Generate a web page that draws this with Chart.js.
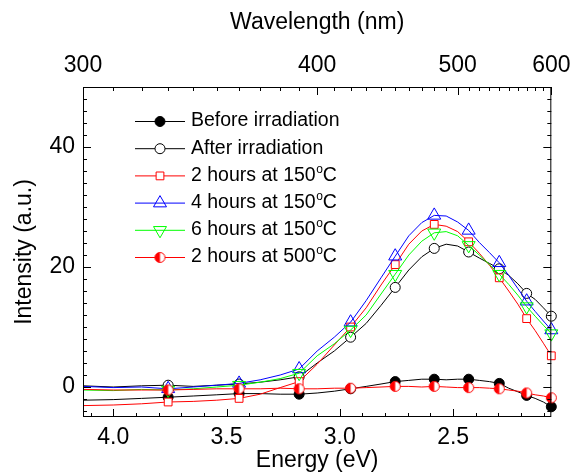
<!DOCTYPE html>
<html>
<head>
<meta charset="utf-8">
<script src="https://cdn.jsdelivr.net/npm/chart.js@4.4.1/dist/chart.umd.min.js"></script>
<style>
  html, body { margin: 0; padding: 0; background: #fff; }
  #chart { display: block; }
</style>
</head>
<body>
<canvas id="chart" width="580" height="472"></canvas>
<script>
const wavelengths = [300,310,320,330,340,350,360,370,380,390,400,410,420,430,440,450,460,470,480,490,500,510,520,530,540,550,560,570,580,590,600];
const markerWavelengths = [330,360,390,420,450,480,510,540,570,600];

const energyTicks = [4.0, 3.5, 3.0, 2.5];
const wavelengthTicks = [300, 400, 500, 600];
const intensityTicks = [0, 20, 40];

const beforeIrr = [-2.2,-2.1,-1.9,-1.7,-1.5,-1.3,-1.1,-1.1,-1.2,-1.2,-1.0,-0.7,-0.3,0.1,0.5,0.9,1.1,1.3,1.3,1.2,1.3,1.3,1.1,0.9,0.6,-0.2,-0.8,-1.4,-1.9,-2.5,-3.3];
const afterIrr = [0.2,0.0,0.2,0.3,0.1,0.3,0.5,0.8,1.2,1.7,4.0,6.0,8.3,10.6,13.6,16.6,19.5,21.7,23.1,23.8,23.5,22.5,21.5,20.6,19.7,18.6,17.2,15.6,14.6,13.2,11.8];
const h2at150 = [-3.1,-3.0,-2.8,-2.5,-2.4,-2.2,-1.9,-1.2,-0.1,0.9,3.8,7.0,10.0,13.2,17.0,20.4,23.8,26.0,27.1,26.8,25.9,24.2,22.3,20.3,18.2,16.0,13.8,11.4,9.4,7.3,5.2];
const h4at150 = [0.1,-0.1,0.0,-0.3,0.0,0.3,0.6,1.2,2.0,3.0,6.0,8.3,10.8,14.4,18.2,21.8,25.2,27.4,28.6,28.5,27.5,26.1,24.1,22.4,20.7,18.6,16.4,14.3,12.6,11.0,9.5];
const h6at150 = [-0.5,-0.6,-0.4,-0.5,-0.3,0.0,0.3,0.8,1.4,2.3,5.2,7.2,9.5,12.0,15.5,18.8,22.0,24.3,25.7,25.9,25.2,23.6,22.0,20.4,18.8,17.1,15.3,13.4,11.8,10.3,8.9];
const h2at500 = [-0.4,-0.5,-0.5,-0.5,-0.4,-0.3,-0.3,-0.3,-0.2,-0.3,-0.3,-0.2,-0.2,-0.1,0.0,0.1,0.1,0.0,0.1,0.0,-0.1,-0.1,-0.1,-0.2,-0.3,-0.5,-0.7,-1.0,-1.3,-1.5,-1.8];

const FONT = "'Liberation Sans', Arial, sans-serif";
const HC = 1240; // eV*nm

// half filled circle marker
function halfCircle(color) {
    const c = document.createElement('canvas');
    c.width = 13; c.height = 13;
    const g = c.getContext('2d');
    g.beginPath(); g.arc(6.5, 6.5, 5, 0, Math.PI * 2);
    g.fillStyle = '#fff'; g.fill();
    g.beginPath(); g.arc(6.5, 6.5, 5, Math.PI / 2, Math.PI * 1.5);
    g.closePath(); g.fillStyle = color; g.fill();
    g.beginPath(); g.arc(6.5, 6.5, 5, 0, Math.PI * 2);
    g.strokeStyle = color; g.lineWidth = 1; g.stroke();
    return c;
}

const series = [
    { label: 'Before irradiation', data: beforeIrr, color: '#000000', fill: '#000000', style: 'circle', r: 5, rot: 0 },
    { label: 'After irradiation', data: afterIrr, color: '#000000', fill: '#ffffff', style: 'circle', r: 5, rot: 0 },
    { label: '2 hours at 150°C', data: h2at150, color: '#ff0000', fill: '#ffffff', style: 'rect', r: 5.5, rot: 0 },
    { label: '4 hours at 150°C', data: h4at150, color: '#0000ff', fill: 'rgba(255,255,255,0)', style: 'triangle', r: 7.5, rot: 0 },
    { label: '6 hours at 150°C', data: h6at150, color: '#00ff00', fill: 'rgba(255,255,255,0)', style: 'triangle', r: 7.5, rot: 180 },
    { label: '2 hours at 500°C', data: h2at500, color: '#ff0000', fill: '#ff0000', style: halfCircle('#ff0000'), r: 5, rot: 0 }
];

const datasets = series.map((s, i) => ({
    label: s.label,
    data: s.data.map((v, k) => ({ x: HC / wavelengths[k], y: v })),
    borderColor: s.color,
    borderWidth: 1,
    pointStyle: s.style,
    rotation: s.rot,
    pointBackgroundColor: s.fill,
    pointBorderColor: s.color,
    pointBorderWidth: 1,
    pointRadius: ctx => markerWavelengths.includes(wavelengths[ctx.dataIndex]) ? s.r : 0,
    pointHoverRadius: 0,
    tension: 0,
    clip: false,
    order: series.length - i
}));

// frame and inward ticks on all four sides
const frameTicks = {
    id: 'frameTicks',
    afterDatasetsDraw(chart) {
        const { ctx, chartArea: a, scales } = chart;
        ctx.save();
        ctx.strokeStyle = '#000';
        ctx.lineWidth = 1;
        ctx.beginPath();
        for (let k = 21; k <= 41; k++) {
            const px = Math.round(scales.x.getPixelForValue(k / 10)) + 0.5;
            const len = k % 5 === 0 ? 8 : 4;
            ctx.moveTo(px, a.bottom); ctx.lineTo(px, a.bottom - len);
        }
        for (let nm = 300; nm <= 600; nm += 10) {
            const px = Math.round(scales.x.getPixelForValue(HC / nm)) + 0.5;
            const len = nm % 100 === 0 ? 8 : 4;
            ctx.moveTo(px, a.top); ctx.lineTo(px, a.top + len);
        }
        for (let v = -4; v <= 50; v += 2) {
            const py = Math.round(scales.y.getPixelForValue(v)) + 0.5;
            const len = v % 20 === 0 ? 8 : 4;
            ctx.moveTo(a.left, py); ctx.lineTo(a.left + len, py);
            ctx.moveTo(a.right, py); ctx.lineTo(a.right - len, py);
        }
        ctx.stroke();
        ctx.strokeRect(a.left + 0.5, a.top + 0.5, a.right - a.left - 1, a.bottom - a.top - 1);
        ctx.restore();
    }
};

// legend inside the plot: line + marker + text with superscript o
const insideLegend = {
    id: 'insideLegend',
    afterDraw(chart) {
        const ctx = chart.ctx;
        const x0 = 135, x1 = 185, xm = 160, xt = 191, y0 = 121, dy = 27.2;
        ctx.save();
        series.forEach((s, i) => {
            const y = y0 + i * dy;
            ctx.strokeStyle = s.color; ctx.lineWidth = 1;
            ctx.beginPath(); ctx.moveTo(x0, y + 0.5); ctx.lineTo(x1, y + 0.5); ctx.stroke();
            ctx.fillStyle = s.fill; ctx.strokeStyle = s.color;
            Chart.helpers.drawPoint(ctx, { pointStyle: s.style, rotation: s.rot, radius: s.r, borderWidth: 1 }, xm, y + 0.5);
            ctx.fillStyle = '#000';
            ctx.textBaseline = 'middle';
            ctx.textAlign = 'left';
            const parts = s.label.split('°');
            ctx.font = '19.5px ' + FONT;
            ctx.fillText(parts[0], xt, y);
            if (parts.length > 1) {
                let x = xt + ctx.measureText(parts[0]).width;
                ctx.font = '12px ' + FONT;
                ctx.fillText('o', x + 0.5, y - 6);
                x += ctx.measureText('o').width + 0.5;
                ctx.font = '19.5px ' + FONT;
                ctx.fillText(parts[1], x, y);
            }
        });
        ctx.restore();
    }
};

const tickFont = { family: FONT, size: 23, lineHeight: 1 };
const titleFont = { family: FONT, size: 23, lineHeight: 1 };

new Chart(document.getElementById('chart'), {
    type: 'line',
    data: { datasets },
    options: {
        responsive: false,
        animation: false,
        devicePixelRatio: 1,
        layout: { padding: { left: 0, right: 22, top: 0, bottom: 0 } },
        plugins: { legend: { display: false }, tooltip: { enabled: false } },
        scales: {
            x: {
                type: 'linear', position: 'bottom', reverse: true,
                min: HC / 600, max: HC / 300,
                grid: { display: false, drawTicks: false },
                border: { display: false },
                afterBuildTicks: sc => { sc.ticks = energyTicks.map(v => ({ value: v })); },
                ticks: { font: tickFont, color: '#000', padding: 9, maxRotation: 0, autoSkip: false,
                         callback: v => v.toFixed(1) },
                title: { display: true, text: 'Energy (eV)', font: titleFont, color: '#000', padding: { top: 0, bottom: -0.5 } },
                afterFit: sc => { sc.height = 55; }
            },
            x2: {
                type: 'linear', position: 'top', reverse: true,
                min: HC / 600, max: HC / 300,
                grid: { display: false, drawTicks: false },
                border: { display: false },
                afterBuildTicks: sc => { sc.ticks = wavelengthTicks.map(nm => ({ value: HC / nm })); },
                ticks: { font: tickFont, color: '#000', padding: 9.5, maxRotation: 0, autoSkip: false,
                         callback: (v, i) => String(wavelengthTicks[i]) },
                title: { display: true, text: 'Wavelength (nm)', font: titleFont, color: '#000', padding: { top: 11, bottom: 0 } },
                afterFit: sc => { sc.height = 87; }
            },
            y: {
                type: 'linear', position: 'left',
                min: -5, max: 50,
                grid: { display: false, drawTicks: false },
                border: { display: false },
                afterBuildTicks: sc => { sc.ticks = intensityTicks.map(v => ({ value: v })); },
                ticks: { font: tickFont, color: '#000', padding: 8 },
                title: { display: true, text: 'Intensity (a.u.)', font: titleFont, color: '#000', padding: { top: 13.5, bottom: 0 } },
                afterFit: sc => { sc.width = 83; }
            }
        }
    },
    plugins: [frameTicks, insideLegend]
});
</script>
</body>
</html>
